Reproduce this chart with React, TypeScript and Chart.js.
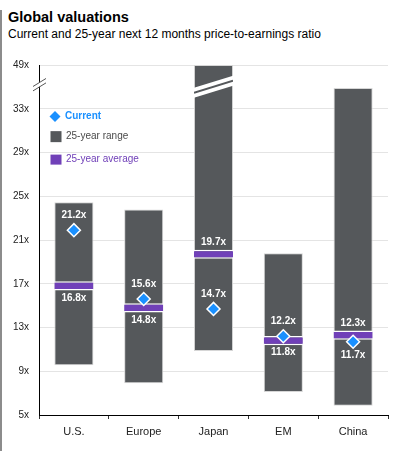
import React, { useEffect, useRef } from "react";
import { Chart, registerables } from "chart.js";

Chart.register(...registerables);

const categories = ["U.S.", "Europe", "Japan", "EM", "China"];
const rangeLow = [9.55, 7.9, 10.85, 7.1, 5.85];
const rangeHigh = [24.45, 23.8, 37, 19.8, 34.9];
const avgValues = [16.8, 14.8, 19.7, 11.8, 12.3];
const currentValues = [21.9, 15.6, 14.7, 12.2, 11.7];
const currentLabels = ["21.2x", "15.6x", "14.7x", "12.2x", "11.7x"];
const avgLabels = ["16.8x", "14.8x", "19.7x", "11.8x", "12.3x"];
const currentLabelSide = ["above", "above", "above", "above", "below"];
const avgLabelSide = ["below", "below", "above", "below", "above"];
const yTickLabels = ["5x", "9x", "13x", "17x", "21x", "25x", "29x", "33x", "49x"];
const breakValue = 35.2;
const brokenCategory = 2;

const BAR = "#55585b";
const PURPLE = "#7040b8";
const BLUE = "#1a90ff";
const FONT = "'Liberation Sans', Arial, sans-serif";

const overlayPlugin = {
  id: "overlay",
  afterDatasetsDraw(chart: any) {
    const { ctx, chartArea } = chart;
    const x = chart.scales.x;
    const y = chart.scales.y;
    const meta = chart.getDatasetMeta(0);
    const bar = meta.data[brokenCategory];
    if (bar) {
      const hw = bar.width / 2;
      const xl = bar.x - hw;
      const xr = bar.x + hw;
      const yc = y.getPixelForValue(breakValue) + 2;
      ctx.save();
      ctx.beginPath();
      ctx.rect(xl, chartArea.top, xr - xl, chartArea.bottom - chartArea.top);
      ctx.clip();
      ctx.fillStyle = "#ffffff";
      ctx.beginPath();
      ctx.moveTo(xl, yc + 6 - 5);
      ctx.lineTo(xr, yc - 6 - 5);
      ctx.lineTo(xr, yc - 6 + 5);
      ctx.lineTo(xl, yc + 6 + 5);
      ctx.closePath();
      ctx.fill();
      ctx.strokeStyle = BAR;
      ctx.lineWidth = 2;
      ctx.beginPath();
      ctx.moveTo(xl, yc + 6);
      ctx.lineTo(xr, yc - 6);
      ctx.stroke();
      ctx.restore();
    }
    ctx.save();
    ctx.font = "bold 10px " + FONT;
    ctx.fillStyle = "#ffffff";
    ctx.textAlign = "center";
    ctx.textBaseline = "middle";
    categories.forEach((_, i) => {
      const px = x.getPixelForValue(i);
      const cy = y.getPixelForValue(currentValues[i]);
      ctx.fillText(currentLabels[i], px, cy + (currentLabelSide[i] === "above" ? -15 : 14));
      const ay = y.getPixelForValue(avgValues[i]);
      ctx.fillText(avgLabels[i], px, ay + (avgLabelSide[i] === "above" ? -12 : 12));
    });
    ctx.restore();
  },
  afterDraw(chart: any) {
    const { ctx, chartArea } = chart;
    const y = chart.scales.y;
    const ax = chartArea.left;
    const yb = y.getPixelForValue(breakValue);
    ctx.save();
    ctx.strokeStyle = "#ffffff";
    ctx.lineWidth = 4;
    ctx.beginPath();
    ctx.moveTo(ax - 3, yb + 2);
    ctx.lineTo(ax + 3, yb - 2);
    ctx.stroke();
    ctx.strokeStyle = "#555555";
    ctx.lineWidth = 1;
    [-2.2, 2.2].forEach((o) => {
      ctx.beginPath();
      ctx.moveTo(ax - 6, yb + 4 + o);
      ctx.lineTo(ax + 7, yb - 4 + o);
      ctx.stroke();
    });
    ctx.restore();

    const lx = chartArea.left + 16;
    ctx.save();
    ctx.textBaseline = "middle";
    ctx.textAlign = "left";
    const l1 = y.getPixelForValue(32.3);
    ctx.fillStyle = BLUE;
    ctx.beginPath();
    ctx.moveTo(lx, l1 - 5.5);
    ctx.lineTo(lx + 5.5, l1);
    ctx.lineTo(lx, l1 + 5.5);
    ctx.lineTo(lx - 5.5, l1);
    ctx.closePath();
    ctx.fill();
    ctx.font = "bold 10px " + FONT;
    ctx.fillText("Current", lx + 10, l1);
    const l2 = y.getPixelForValue(30.45);
    ctx.fillStyle = BAR;
    ctx.fillRect(lx - 4.5, l2 - 5.5, 11, 11);
    ctx.fillStyle = "#4a4a4a";
    ctx.font = "10px " + FONT;
    ctx.fillText("25-year range", lx + 11, l2);
    const l3 = y.getPixelForValue(28.35);
    ctx.fillStyle = PURPLE;
    ctx.fillRect(lx - 4.5, l3 - 5, 11, 10);
    ctx.font = "10px " + FONT;
    ctx.fillText("25-year average", lx + 11, l3);
    ctx.restore();
  },
};

export default function App() {
  const ref = useRef<HTMLCanvasElement | null>(null);
  useEffect(() => {
    if (!ref.current) return;
    const chart = new Chart(ref.current, {
      type: "bar",
      data: {
        labels: categories,
        datasets: [
          {
            type: "bar",
            label: "25-year range",
            data: categories.map((_, i) => [rangeLow[i], rangeHigh[i]]) as any,
            backgroundColor: BAR,
            borderColor: "#d6d6d6",
            borderWidth: 1,
            borderSkipped: false,
            grouped: false,
            barPercentage: 0.56,
            categoryPercentage: 1,
            order: 3,
          } as any,
          {
            type: "bar",
            label: "25-year average",
            data: avgValues.map((v) => [v - 0.42, v + 0.42]) as any,
            backgroundColor: PURPLE,
            borderColor: "#ffffff",
            borderWidth: { top: 1.5, bottom: 1.5, left: 0, right: 0 },
            borderSkipped: false,
            grouped: false,
            barPercentage: 0.56,
            categoryPercentage: 1,
            order: 2,
          } as any,
          {
            type: "line",
            label: "Current",
            data: currentValues,
            showLine: false,
            pointStyle: "rectRot",
            pointRadius: 6.5,
            pointBackgroundColor: BLUE,
            pointBorderColor: "#ffffff",
            pointBorderWidth: 1.5,
            order: 1,
          } as any,
        ],
      },
      options: {
        animation: false,
        responsive: false,
        maintainAspectRatio: false,
        layout: { padding: { top: 17, right: 11, left: 0, bottom: 0 } },
        plugins: { legend: { display: false }, tooltip: { enabled: false } },
        scales: {
          x: {
            offset: true,
            grid: {
              offset: true,
              drawOnChartArea: false,
              color: "#333333",
              tickLength: 4,
            },
            border: { display: true, color: "#000000", width: 1 },
            ticks: { color: "#222222", font: { family: FONT, size: 11 }, padding: 6 },
            afterFit: (s: any) => {
              s.height = 36;
            },
          },
          y: {
            min: 5,
            max: 37,
            grid: { color: "#e4e4e4", drawTicks: false },
            border: { display: true, color: "#000000", width: 1 },
            ticks: {
              stepSize: 4,
              color: "#222222",
              padding: 10,
              font: { family: FONT, size: 10 },
              callback: (_v: any, i: number) => yTickLabels[i],
            },
            afterFit: (s: any) => {
              s.width = 39;
            },
          },
        },
      },
      plugins: [overlayPlugin],
    });
    return () => chart.destroy();
  }, []);

  return (
    <div style={{ position: "absolute", left: 0, top: 0, width: 399, height: 451, background: "#fff", fontFamily: FONT }}>
      <div style={{ position: "absolute", left: 0, top: 10, width: 2, height: 441, background: "#8c8c8c" }} />
      <div style={{ position: "absolute", left: 8, top: 9.7, fontSize: 14.5, lineHeight: "14.5px", fontWeight: "bold", color: "#000", whiteSpace: "nowrap" }}>
        Global valuations
      </div>
      <div style={{ position: "absolute", left: 8, top: 27.8, fontSize: 12, lineHeight: "12px", color: "#000", whiteSpace: "nowrap" }}>
        Current and 25-year next 12 months price-to-earnings ratio
      </div>
      <canvas ref={ref} width={399} height={403} style={{ position: "absolute", left: 0, top: 48, width: 399, height: 403 }} />
    </div>
  );
}
